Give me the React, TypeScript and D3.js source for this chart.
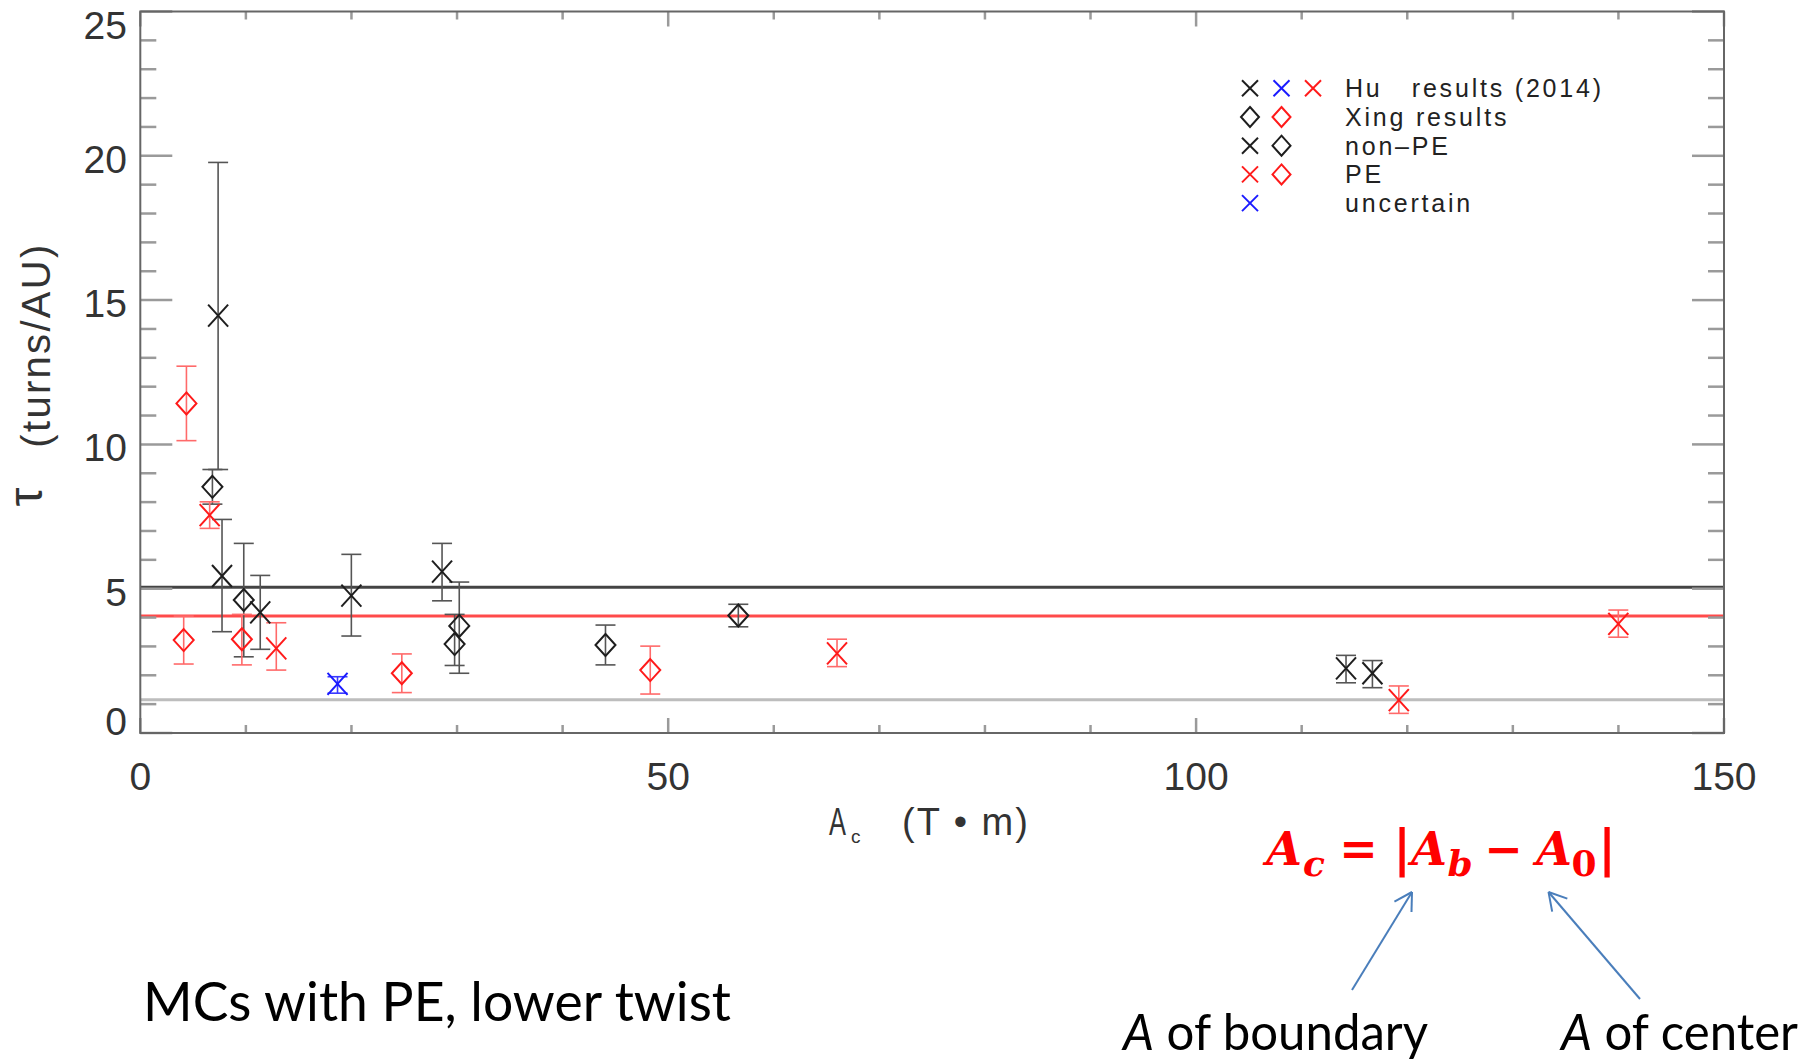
import React from 'react';
import * as d3 from 'd3';

// ---- Data ----
// Hu et al. (2014) results, drawn as X
const huAc = [7.37, 6.57, 7.74, 11.36, 12.88, 18.68, 19.99, 28.58, 65.99, 114.2, 116.7, 119.2, 139.99];
const huTau = [14.46, 7.55, 5.44, 4.18, 2.93, 1.7, 4.76, 5.59, 2.76, 2.24, 2.07, 1.14, 3.78];
const huLo = [9.13, 7.09, 3.51, 2.9, 2.18, 1.38, 3.36, 4.58, 2.3, 1.74, 1.57, 0.68, 3.32];
const huHi = [19.77, 8.01, 7.4, 5.46, 3.82, 1.95, 6.19, 6.57, 3.25, 2.69, 2.51, 1.63, 4.26];
const huClass = ['non-PE', 'PE', 'non-PE', 'non-PE', 'PE', 'uncertain', 'non-PE', 'non-PE', 'PE', 'non-PE', 'non-PE', 'PE', 'PE'];

// Xing results, drawn as diamonds
const xingAc = [4.37, 6.83, 9.8, 4.11, 9.62, 24.77, 30.21, 29.77, 44.06, 48.3, 56.64];
const xingTau = [11.42, 8.53, 4.61, 3.22, 3.25, 2.07, 3.71, 3.08, 3.05, 2.18, 4.07];
const xingLo = [10.13, 7.93, 2.64, 2.39, 2.36, 1.4, 2.07, 2.34, 2.36, 1.35, 3.68];
const xingHi = [12.71, 9.13, 6.57, 4.05, 4.11, 2.74, 5.23, 4.11, 3.74, 3.01, 4.46];
const xingClass = ['PE', 'non-PE', 'non-PE', 'PE', 'PE', 'PE', 'non-PE', 'non-PE', 'non-PE', 'PE', 'non-PE'];

// Horizontal reference levels
const refLevels = [5.05, 4.05, 1.15];
const refClass = ['non-PE', 'PE', 'ref'];

const xTickMajor = [0, 50, 100, 150];
const yTickMajor = [0, 5, 10, 15, 20, 25];

const legendRows = [
  { marks: [['x', 'non-PE'], ['x', 'uncertain'], ['x', 'PE']], label: 'Hu   results (2014)' },
  { marks: [['d', 'non-PE'], ['d', 'PE']], label: 'Xing results' },
  { marks: [['x', 'non-PE'], ['d', 'non-PE']], label: 'non\u2013PE' },
  { marks: [['x', 'PE'], ['d', 'PE']], label: 'PE' },
  { marks: [['x', 'uncertain']], label: 'uncertain' },
];

// formula pieces: glyph, ink centre x, italic, subscript
const formula = [
  { g: 'A', cx: 1284, sub: false, it: true },
  { g: 'c', cx: 1314, sub: true, it: true },
  { g: '=', cx: 1358.5, sub: false, it: false },
  { g: '|', cx: 1402, sub: false, it: false },
  { g: 'A', cx: 1429, sub: false, it: true },
  { g: 'b', cx: 1460, sub: true, it: true },
  { g: '\u2212', cx: 1503.5, sub: false, it: false },
  { g: 'A', cx: 1554, sub: false, it: true },
  { g: '0', cx: 1584, sub: true, it: false },
  { g: '|', cx: 1607, sub: false, it: false },
];

// ---- Styles ----
const markColor: Record<string, string> = { 'non-PE': '#1e1e1e', PE: '#ff1a1a', uncertain: '#1a1aff' };
const errColor: Record<string, string> = { 'non-PE': '#555', PE: '#ff6a6a', uncertain: '#3a3aff' };
const lineColor: Record<string, string> = { 'non-PE': '#444', PE: '#ff4a4a', ref: '#bdbdbd' };

const W = 1818;
const H = 1061;
const L = 140.3, R = 1724, T = 11.5, B = 733;
const IDL_FONT = '"Liberation Sans", Arial, sans-serif';

function XMark({ cx, cy, w = 10, h = 11, color, sw = 2 }: any) {
  return (
    <g stroke={color} strokeWidth={sw} fill="none">
      <line x1={cx - w} y1={cy - h} x2={cx + w} y2={cy + h} />
      <line x1={cx - w} y1={cy + h} x2={cx + w} y2={cy - h} />
    </g>
  );
}

function Diamond({ cx, cy, w = 10, h = 11, color, sw = 2 }: any) {
  return (
    <path
      d={`M${cx},${cy - h}L${cx + w},${cy}L${cx},${cy + h}L${cx - w},${cy}Z`}
      stroke={color}
      strokeWidth={sw}
      fill="none"
    />
  );
}

function ErrBar({ x, y1, y2, color }: any) {
  const c = 10;
  return (
    <g stroke={color} strokeWidth={1.6}>
      <line x1={x} y1={y1} x2={x} y2={y2} />
      <line x1={x - c} y1={y1} x2={x + c} y2={y1} />
      <line x1={x - c} y1={y2} x2={x + c} y2={y2} />
    </g>
  );
}

function Arrow({ x1, y1, x2, y2 }: any) {
  const ang = Math.atan2(y1 - y2, x1 - x2);
  const len = 20;
  const a1 = ang + Math.PI / 6;
  const a2 = ang - Math.PI / 6;
  return (
    <g stroke="#4a7ebb" strokeWidth={2} fill="none">
      <line x1={x1} y1={y1} x2={x2} y2={y2} />
      <line x1={x2} y1={y2} x2={x2 + len * Math.cos(a1)} y2={y2 + len * Math.sin(a1)} />
      <line x1={x2} y1={y2} x2={x2 + len * Math.cos(a2)} y2={y2 + len * Math.sin(a2)} />
    </g>
  );
}

export default function App() {
  const x = d3.scaleLinear().domain([0, 150]).range([L, R]);
  const y = d3.scaleLinear().domain([0, 25]).range([B, T]);

  const xMinor = d3.range(0, 151, 10);
  const yMinor = d3.range(0, 26, 1);

  const tickColor = '#9a9a9a';
  const xMajLen = 15, xMinLen = 8, yMajLen = 32, yMinLen = 16;

  const huPts = huAc.map((a, i) => ({ a, t: huTau[i], lo: huLo[i], hi: huHi[i], c: huClass[i] }));
  const xingPts = xingAc.map((a, i) => ({ a, t: xingTau[i], lo: xingLo[i], hi: xingHi[i], c: xingClass[i] }));

  return (
    <svg width={W} height={H} style={{ position: 'absolute', left: 0, top: 0, background: '#fff' }}>
      <rect x={0} y={0} width={W} height={H} fill="#fff" />

      {/* reference lines */}
      {refLevels.map((v, i) => (
        <line key={'ref' + i} x1={L} x2={R} y1={y(v)} y2={y(v)} stroke={lineColor[refClass[i]]} strokeWidth={3} />
      ))}

      {/* ticks */}
      <g stroke={tickColor} strokeWidth={2.5}>
        {xMinor.map((v) => {
          const len = xTickMajor.includes(v) ? xMajLen : xMinLen;
          return (
            <g key={'xt' + v}>
              <line x1={x(v)} x2={x(v)} y1={B} y2={B - len} />
              <line x1={x(v)} x2={x(v)} y1={T} y2={T + len} />
            </g>
          );
        })}
        {yMinor.map((v) => {
          const len = yTickMajor.includes(v) ? yMajLen : yMinLen;
          return (
            <g key={'yt' + v}>
              <line x1={L} x2={L + len} y1={y(v)} y2={y(v)} />
              <line x1={R} x2={R - len} y1={y(v)} y2={y(v)} />
            </g>
          );
        })}
      </g>

      {/* frame */}
      <rect x={L} y={T} width={R - L} height={B - T} fill="none" stroke="#666" strokeWidth={2} />

      {/* error bars */}
      {xingPts.map((p, i) => (
        <ErrBar key={'xe' + i} x={x(p.a)} y1={y(p.hi)} y2={y(p.lo)} color={errColor[p.c]} />
      ))}
      {huPts.map((p, i) => (
        <ErrBar key={'he' + i} x={x(p.a)} y1={y(p.hi)} y2={y(p.lo)} color={errColor[p.c]} />
      ))}

      {/* markers */}
      {xingPts.map((p, i) => (
        <Diamond key={'xd' + i} cx={x(p.a)} cy={y(p.t)} color={markColor[p.c]} />
      ))}
      {huPts.map((p, i) => (
        <XMark key={'hx' + i} cx={x(p.a)} cy={y(p.t)} color={markColor[p.c]} />
      ))}

      {/* tick labels */}
      <g fontFamily={IDL_FONT} fontSize={39} fill="#333">
        {yTickMajor.map((v) => {
          const c = Math.max(T + 13, Math.min(B - 12, y(v) + 3));
          return (
            <text key={'yl' + v} x={127} y={c + 14} textAnchor="end">
              {v}
            </text>
          );
        })}
        {xTickMajor.map((v) => (
          <text key={'xl' + v} x={x(v)} y={790} textAnchor="middle">
            {v}
          </text>
        ))}
      </g>

      {/* axis titles */}
      <g fontFamily={IDL_FONT} fill="#333">
        <text x={829} y={835} fontSize={38} textLength={17} lengthAdjust="spacingAndGlyphs">
          A
        </text>
        <text x={851} y={843} fontSize={19}>
          c
        </text>
        <text x={902} y={835} fontSize={38} letterSpacing={2} style={{ whiteSpace: 'pre' }}>
          {'(T \u2022 m)'}
        </text>
        <text transform="translate(50,345) rotate(-90)" fontSize={40} letterSpacing={2.3} textAnchor="middle">
          (turns/AU)
        </text>
        <text transform="translate(42,497) rotate(-90)" fontSize={48} textAnchor="middle">
          τ
        </text>
      </g>

      {/* legend */}
      <g fontFamily={IDL_FONT} fontSize={25} fill="#222">
        {legendRows.map((row, i) => {
          const cy = 88.3 + i * 28.7;
          return (
            <g key={'lg' + i}>
              {row.marks.map(([t, c], j) => {
                const cx = 1250 + j * 31.5;
                return t === 'x' ? (
                  <XMark key={j} cx={cx} cy={cy} w={8} h={8} color={markColor[c]} sw={2} />
                ) : (
                  <Diamond key={j} cx={cx} cy={cy} w={9} h={10} color={markColor[c]} sw={2} />
                );
              })}
              <text x={1345} y={cy + 9} letterSpacing={2.8} style={{ whiteSpace: 'pre' }}>
                {row.label}
              </text>
            </g>
          );
        })}
      </g>

      {/* formula */}
      <g fontFamily='"DejaVu Serif", "Liberation Serif", serif' fontWeight="bold" fill="#ff0000" textAnchor="middle">
        {formula.map((f, i) => (
          <text
            key={'f' + i}
            x={f.cx}
            y={f.sub ? 876 : 865}
            fontSize={f.sub ? 36 : f.g === '|' ? 50 : 46}
            fontStyle={f.it ? 'italic' : 'normal'}
          >
            {f.g}
          </text>
        ))}
      </g>

      {/* arrows */}
      <Arrow x1={1352} y1={990} x2={1412} y2={892} />
      <Arrow x1={1640} y1={999} x2={1548.5} y2={892} />

      {/* annotations */}
      <g fontFamily='Lato, "Open Sans", sans-serif' fill="#000">
        <text x={143} y={1021} fontSize={55} textLength={588} lengthAdjust="spacingAndGlyphs">
          MCs with PE, lower twist
        </text>
        <text x={1123} y={1050} fontSize={50} textLength={305} lengthAdjust="spacingAndGlyphs">
          <tspan fontStyle="italic">A</tspan> of boundary
        </text>
        <text x={1561} y={1050} fontSize={50} textLength={237} lengthAdjust="spacingAndGlyphs">
          <tspan fontStyle="italic">A</tspan> of center
        </text>
      </g>
    </svg>
  );
}
